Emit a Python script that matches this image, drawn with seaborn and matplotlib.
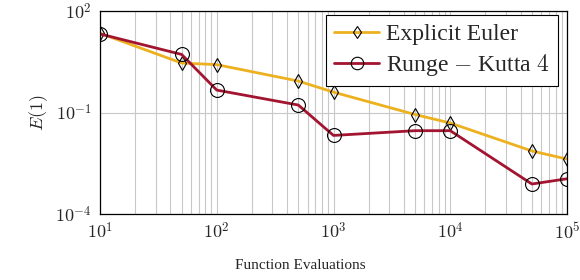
import matplotlib
matplotlib.use("Agg")
import matplotlib.pyplot as plt
import matplotlib.ticker as mticker
import numpy as np
import pandas as pd
import seaborn as sns

# values
evals = [10, 50, 100, 500, 1000, 5000, 10000, 50000, 100000]
euler_err = [22.0, 2.9, 2.6, 0.85, 0.40, 0.087, 0.049, 0.0073, 0.0042]
rk4_err = [21.0, 5.2, 0.46, 0.166, 0.021, 0.029, 0.029, 0.00077, 0.0011]

sns.set_style("white")
plt.rcParams['font.family'] = ['Liberation Serif', 'DejaVu Serif']
plt.rcParams['mathtext.fontset'] = 'cm'

euler = pd.DataFrame({'n': evals, 'err': euler_err})
rk4 = pd.DataFrame({'n': evals, 'err': rk4_err})

fig = plt.figure(figsize=(5.8, 2.8), dpi=100)
ax = fig.add_axes([0.1724, 0.2357, 0.8052, 0.725])

sns.lineplot(x='n', y='err', data=euler, ax=ax, color='#EDB120', lw=2,
             marker='d', markersize=7, markerfacecolor='none',
             markeredgecolor='black', markeredgewidth=0.8,
             label='Explicit Euler')
sns.lineplot(x='n', y='err', data=rk4, ax=ax, color='#A2142F', lw=2,
             marker='o', markersize=10, markerfacecolor='none',
             markeredgecolor='black', markeredgewidth=0.8,
             label='Runge $-$ Kutta $4$')

ax.set_xscale('log')
ax.set_yscale('log')
ax.set_xlim(10, 1e5)
ax.set_ylim(1e-4, 1e2)
ax.set_xticks([1e1, 1e2, 1e3, 1e4, 1e5])
ax.set_yticks([1e-4, 1e-1, 1e2])
pow10 = mticker.FuncFormatter(lambda v, p: r'$10^{%d}$' % round(np.log10(v)))
ax.xaxis.set_major_formatter(pow10)
ax.yaxis.set_major_formatter(pow10)
ax.xaxis.set_minor_locator(mticker.LogLocator(base=10, subs=range(2, 10), numticks=20))
ax.yaxis.set_minor_locator(mticker.NullLocator())
ax.xaxis.set_minor_formatter(mticker.NullFormatter())

ax.grid(True, which='major', axis='both', color='#c8c8c8', lw=0.8)
ax.grid(True, which='minor', axis='x', color='#c8c8c8', lw=0.8)
ax.set_axisbelow(True)
for s in ax.spines.values():
    s.set_color('black')
    s.set_linewidth(0.9)

ax.tick_params(which='both', direction='in', length=3, labelsize=13, width=0.6, pad=6)
ax.tick_params(which='minor', length=2)

ax.set_xlabel('Function Evaluations', fontsize=11)
ax.xaxis.set_label_coords(0.428, -0.22)
ax.set_ylabel('$E(1)$', fontsize=13, labelpad=4)

leg = ax.legend(loc='upper right', bbox_to_anchor=(558 / 580, 265 / 280),
                bbox_transform=fig.transFigure, fontsize=17, frameon=True,
                fancybox=False, edgecolor='black', framealpha=1,
                handlelength=1.9, handletextpad=0.3, borderpad=0.35,
                labelspacing=0.3, borderaxespad=0, markerscale=0.9)
leg.get_frame().set_linewidth(0.8)

plt.savefig('out.png', dpi=100)
